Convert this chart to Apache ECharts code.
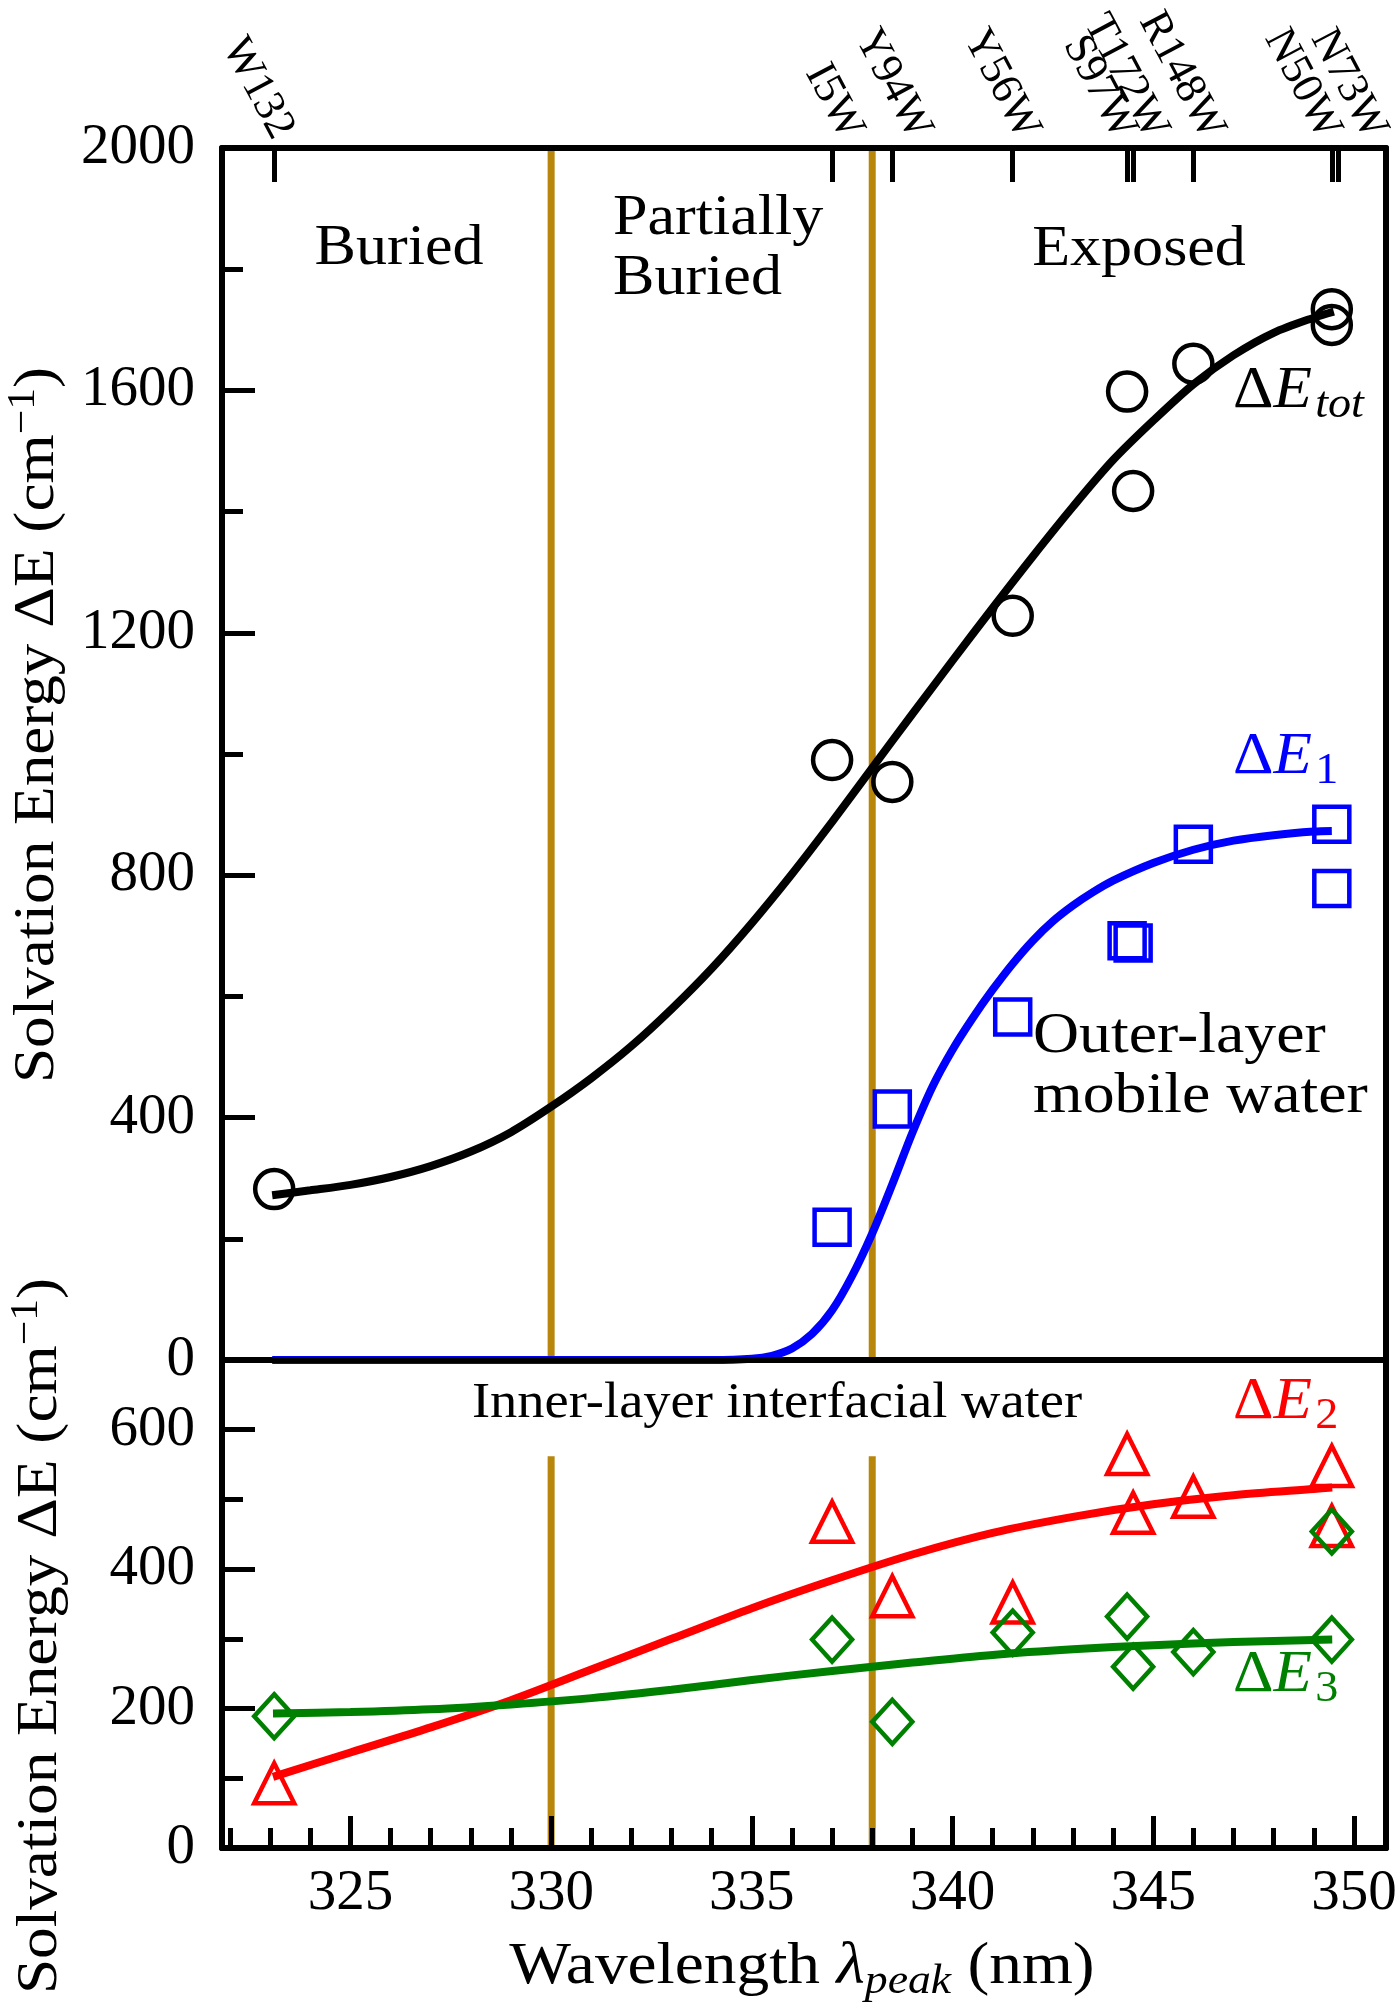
<!DOCTYPE html>
<html>
<head>
<meta charset="utf-8">
<script src="https://cdn.jsdelivr.net/npm/echarts@6/dist/echarts.min.js"></script>
<style>
  html, body { margin: 0; padding: 0; background: #fff; }
  #chart { width: 1400px; height: 2010px; }
</style>
</head>
<body>
<div id="chart"></div>
<script>
// measured points, x = peak wavelength (nm)
const peakX = [323.1, 337.0, 338.5, 341.5, 344.35, 344.5, 346.0, 349.45, 349.45];
const eTot = [282, 990, 954, 1228, 1598, 1434, 1644, 1734, 1708];
const e1 = [null, 219, 414, 566, 692, 688, 851, 884, 778];
const e2 = [93, 468, 361, 352, 565, 481, 504, 548, 462];
const e3 = [189, 299, 181, 309, 332, 260, 281, 299, 454];

// fitted curves
const fitTotX = [323.05, 324, 325, 326, 327, 328, 329, 330, 331, 332, 333, 334, 335, 336, 337, 338,
                 339, 340, 341, 342, 343, 344, 345, 346, 347, 348, 349, 349.5];
const fitTotY = [272, 280, 289, 302, 320, 344, 376, 418, 465, 518, 579, 646, 721, 802, 888, 977,
                 1066, 1154, 1241, 1326, 1408, 1485, 1550, 1610, 1658, 1695, 1720, 1730];
const fit1X = [323.05, 330, 334, 335, 335.5, 336, 336.5, 337, 337.5, 338, 338.5, 339, 339.5, 340,
               340.5, 341, 341.5, 342, 342.5, 343, 343.5, 344, 345, 346, 347, 348, 349, 349.45];
const fit1Y = [0, 0, 0, 2, 7, 19, 43, 82, 139, 209, 290, 375, 451, 512,
               564, 611, 654, 692, 724, 750, 772, 791, 820, 842, 857, 866, 872, 873];
const fit2X = [323.07, 325, 327, 329, 331, 333, 335, 337, 339, 341, 343, 345, 347, 349, 349.46];
const fit2Y = [102, 137, 173, 212, 256, 300, 344, 384, 421, 452, 475, 493, 506, 515, 517];
const fit3X = [323.07, 325, 327, 329, 331, 333, 335, 337, 339, 341, 343, 345, 347, 349, 349.46];
const fit3Y = [193, 195, 199, 206, 215, 227, 241, 254, 266, 277, 285, 291, 295.5, 298.5, 299];

// mutant ticks on the top axis
const mutantNames = ['W132', 'I5W', 'Y94W', 'Y56W', 'S97W', 'T172W', 'R148W', 'N50W', 'N73W'];
const mutantTicks = [323.1, 337.0, 338.5, 341.5, 344.35, 344.5, 346.0, 349.45, 349.6];
const mutantLabelAt = [323.32, 337.5, 339.2, 341.9, 344.3, 345.1, 346.5, 349.4, 350.55];

// region boundaries
const boundaryX = [330, 338];
const boundaryTopY = [0, 2000];
const boundaryBottomY = [0, 562];

// axis ticks
const xMajor = [325, 330, 335, 340, 345, 350];
const xMinor = [322, 323, 324, 325, 326, 327, 328, 329, 330, 331, 332, 333, 334, 335, 336,
                337, 338, 339, 340, 341, 342, 343, 344, 345, 346, 347, 348, 349, 350];
const yBottomMajor = [0, 200, 400, 600];
const yBottomMinor = [100, 300, 500];

const serif = "'Liberation Serif', 'DejaVu Serif', serif";
const GOLD = '#b8860b';
const X_MIN = 321.8;
const X_MAX = 350.8;

const chart = echarts.init(document.getElementById('chart'));

const pair = (xs, ys) => xs.map((x, i) => [x, ys[i]]);
const frame = { show: true, onZero: false, lineStyle: { color: '#000', width: 6 } };
const noTick = { show: false };
const noLabel = { show: false };
const noSplit = { show: false };
const plain = (v) => String(v);

function xBase(gridIndex, position) {
  return {
    type: 'value', gridIndex, position, min: X_MIN, max: X_MAX, z: 5,
    axisLine: frame, axisTick: noTick, axisLabel: noLabel, splitLine: noSplit
  };
}
function yBase(gridIndex, position, max) {
  return {
    type: 'value', gridIndex, position, min: 0, max, z: 5,
    axisLine: frame, axisTick: noTick, axisLabel: noLabel, splitLine: noSplit
  };
}

// an empty label sits at the axis end so no real label is treated as the "max" one
const mutantName = (v) => {
  const i = mutantLabelAt.findIndex((p) => Math.abs(p - v) < 0.01);
  return i < 0 ? '' : mutantNames[i];
};

const xAxis = [
  xBase(0, 'bottom'),
  Object.assign(xBase(0, 'top'), {
    axisTick: { show: true, inside: true, length: 34, customValues: mutantTicks,
                lineStyle: { color: '#000', width: 5 } },
    axisLabel: {
      show: true, customValues: mutantLabelAt.concat([X_MAX]), rotate: 62, margin: 12,
      showMinLabel: true, showMaxLabel: true, hideOverlap: false,
      fontSize: 44, fontFamily: serif, color: '#000', formatter: mutantName
    }
  }),
  Object.assign(xBase(1, 'bottom'), {
    axisTick: { show: true, inside: true, length: 32, customValues: xMajor,
                lineStyle: { color: '#000', width: 5 } },
    axisLabel: { show: true, customValues: xMajor, margin: 18, fontSize: 57,
                 showMinLabel: true, showMaxLabel: true,
                 fontFamily: serif, color: '#000', formatter: plain }
  }),
  Object.assign(xBase(1, 'bottom'), {
    axisTick: { show: true, inside: true, length: 20, customValues: xMinor,
                lineStyle: { color: '#000', width: 5 } }
  })
];

const yAxis = [
  Object.assign(yBase(0, 'left', 2000), {
    interval: 400,
    axisTick: { show: true, inside: true, length: 33, lineStyle: { color: '#000', width: 5 } },
    minorTick: { show: true, splitNumber: 2, length: 21, lineStyle: { color: '#000', width: 5 } },
    minorSplitLine: { show: false },
    axisLabel: { show: true, margin: 27, fontSize: 57, fontFamily: serif, color: '#000',
                 showMinLabel: true, showMaxLabel: true, formatter: plain }
  }),
  yBase(0, 'right', 2000),
  Object.assign(yBase(1, 'left', 700), {
    axisTick: { show: true, inside: true, length: 33, customValues: yBottomMajor,
                lineStyle: { color: '#000', width: 5 } },
    axisLabel: { show: true, customValues: yBottomMajor, margin: 27, fontSize: 57,
                 showMinLabel: true, showMaxLabel: true,
                 fontFamily: serif, color: '#000', formatter: plain }
  }),
  yBase(1, 'right', 700),
  Object.assign(yBase(1, 'left', 700), {
    axisLine: { show: false },
    axisTick: { show: true, inside: true, length: 21, customValues: yBottomMinor,
                lineStyle: { color: '#000', width: 5 } }
  })
];

function boundary(x, ys, xi, yi) {
  return {
    type: 'line', xAxisIndex: xi, yAxisIndex: yi, symbol: 'none', silent: true, z: 1,
    lineStyle: { color: GOLD, width: 7 }, data: ys.map((y) => [x, y])
  };
}
function curve(xs, ys, color, xi, yi) {
  return {
    type: 'line', xAxisIndex: xi, yAxisIndex: yi, symbol: 'none', smooth: 0.3,
    z: 3, lineStyle: { color, width: 8 }, data: pair(xs, ys)
  };
}
function marks(ys, color, symbol, size, xi, yi) {
  return {
    type: 'scatter', xAxisIndex: xi, yAxisIndex: yi, symbol, symbolSize: size, z: 4,
    itemStyle: { color: 'rgba(0,0,0,0)', borderColor: color, borderWidth: 4.5, opacity: 1 },
    data: pair(peakX, ys).filter((d) => d[1] !== null)
  };
}

const series = [
  boundary(boundaryX[0], boundaryTopY, 0, 0),
  boundary(boundaryX[1], boundaryTopY, 0, 0),
  boundary(boundaryX[0], boundaryBottomY, 2, 2),
  boundary(boundaryX[1], boundaryBottomY, 2, 2),
  curve(fitTotX, fitTotY, '#000', 0, 0),
  curve(fit1X, fit1Y, '#0000ff', 0, 0),
  curve(fit2X, fit2Y, '#ff0000', 2, 2),
  curve(fit3X, fit3Y, '#008000', 2, 2),
  marks(eTot, '#000', 'circle', 38, 0, 0),
  marks(e1, '#0000ff', 'rect', 35, 0, 0),
  marks(e2, '#ff0000', 'triangle', 40, 2, 2),
  marks(e3, '#008000', 'diamond', [40, 44], 2, 2)
];

// text annotations
function txt(x, y, text, opts, sx) {
  return {
    type: 'text', x, y, z: 10, silent: true, scaleX: sx || 1.07,
    style: Object.assign({
      text, fontSize: 58, fontFamily: serif, fill: '#000',
      align: 'left', verticalAlign: 'middle'
    }, opts || {})
  };
}
function mathLabel(x, y, sub, color, subItalic) {
  return {
    type: 'text', x, y, z: 10, silent: true, scaleX: 1.05,
    style: {
      text: '{n|Δ}{i|E}{' + (subItalic ? 'si' : 's') + '|' + sub + '}',
      fill: color, align: 'left', verticalAlign: 'middle',
      rich: {
        n: { fontSize: 60, lineHeight: 72, fontFamily: serif, fill: color },
        i: { fontSize: 60, lineHeight: 72, fontFamily: serif, fontStyle: 'italic', fill: color },
        s: { fontSize: 44, lineHeight: 42, fontFamily: serif, verticalAlign: 'bottom',
             padding: [0, 0, 0, 3], fill: color },
        si: { fontSize: 44, lineHeight: 42, fontFamily: serif, fontStyle: 'italic',
              verticalAlign: 'bottom', padding: [0, 0, 0, 3], fill: color }
      }
    }
  };
}
function yTitle(x, y) {
  return {
    type: 'text', x, y, rotation: Math.PI / 2, scaleX: 1.09, z: 10, silent: true,
    style: {
      text: '{t|Solvation Energy ΔE (cm}{p|−1}{t|)}',
      align: 'center', verticalAlign: 'middle', fill: '#000',
      rich: {
        t: { fontSize: 58, lineHeight: 70, fontFamily: serif },
        p: { fontSize: 40, lineHeight: 34, fontFamily: serif, verticalAlign: 'top' }
      }
    }
  };
}

const graphic = [
  txt(399, 249, 'Buried', { align: 'center' }),
  txt(613, 249, 'Partially\nBuried', { lineHeight: 60 }),
  txt(1139, 250, 'Exposed', { align: 'center' }),
  txt(1033, 1067, 'Outer-layer\nmobile water', { lineHeight: 60 }, 1.1),
  txt(777, 1404, 'Inner-layer interfacial water', { align: 'center', fontSize: 50 }, 1.09),
  mathLabel(1233, 391, 'tot', '#000', true),
  mathLabel(1233, 757, '1', '#0000ff', false),
  mathLabel(1233, 1402, '2', '#ff0000', false),
  mathLabel(1233, 1675, '3', '#008000', false),
  yTitle(38, 725),
  yTitle(41, 1636),
  {
    type: 'text', x: 802, y: 1967, scaleX: 1.09, z: 10, silent: true,
    style: {
      text: '{t|Wavelength }{l|λ}{s|peak}{t| (nm)}',
      align: 'center', verticalAlign: 'middle', fill: '#000',
      rich: {
        t: { fontSize: 60, lineHeight: 72, fontFamily: serif },
        l: { fontSize: 60, lineHeight: 72, fontFamily: serif, fontStyle: 'italic' },
        s: { fontSize: 42, lineHeight: 40, fontFamily: serif, fontStyle: 'italic', verticalAlign: 'bottom' }
      }
    }
  }
];

chart.setOption({
  animation: false,
  backgroundColor: '#fff',
  grid: [
    { left: 222, top: 148, width: 1164, height: 1212, outerBoundsMode: 'none' },
    { left: 222, top: 1360, width: 1164, height: 488, outerBoundsMode: 'none' }
  ],
  xAxis,
  yAxis,
  series,
  graphic
});
</script>
</body>
</html>
